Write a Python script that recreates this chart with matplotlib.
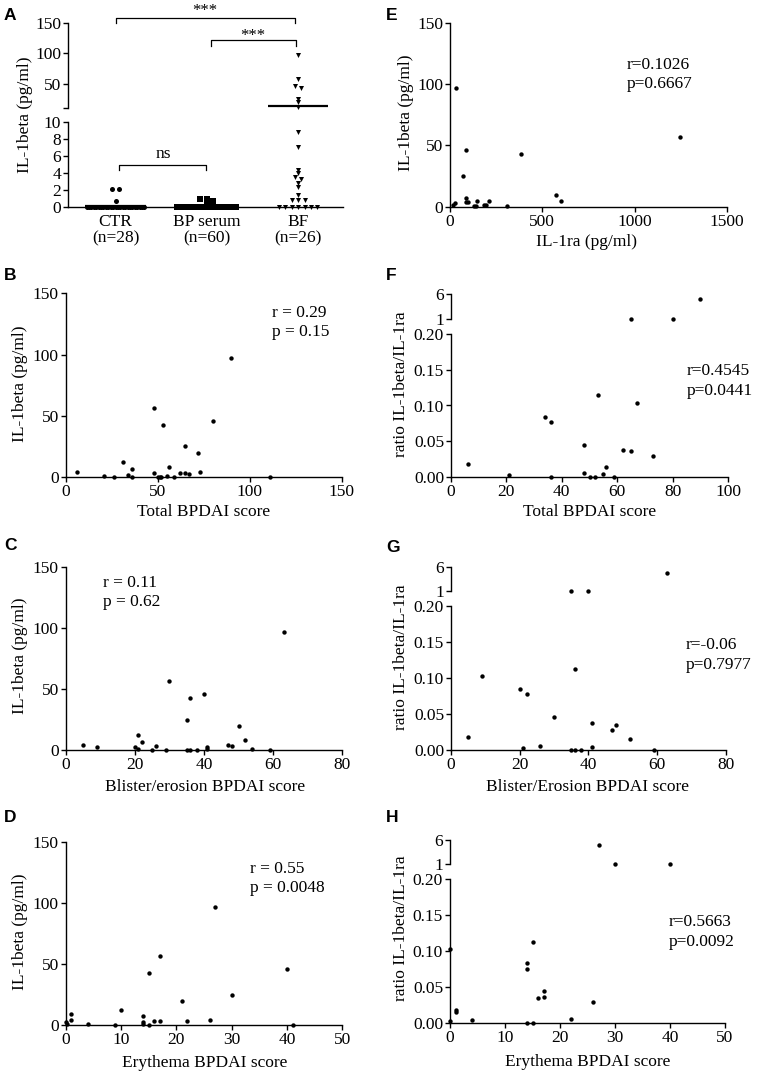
import numpy as np
import matplotlib.pyplot as plt

W, H = 759, 1076
plt.rcParams['font.family'] = 'Liberation Serif'
plt.rcParams['font.size'] = 12.5

# ---- panel A: IL-1beta per group ----
groups = ['CTR\n(n=28)', 'BP serum\n(n=60)', 'BF\n(n=26)']
ctr_vals = [2.1, 2.1, 0.7] + [0.0] * 25
bp_vals = [0.95, 0.9, 0.7, 0.3] + [0.0] * 56
bf_vals = [97, 57, 47, 43, 25, 20, 12, 8.8, 7.1, 4.4, 4.0, 3.5, 3.3, 2.8, 2.4,
           1.4, 0.8, 0.8, 0.8, 0, 0, 0, 0, 0, 0, 0]
a_markers = ['o', 's', 'v']

# ---- E: IL-1beta vs IL-1ra ----
e_ra = [17, 25, 70, 88, 85, 95, 148, 132, 140, 185, 195, 212, 310, 576, 603, 30, 86, 386, 1248]
e_il = [1.4, 2.8, 25, 7.4, 4.1, 4.1, 4.9, 0.5, 0.5, 1.4, 1.4, 4.7, 0.3, 9.4, 4.7, 97, 46, 43, 57]

# ---- B: IL-1beta vs total BPDAI ----
b_score = [6, 21, 26, 31, 34, 36, 36, 48, 48, 50, 51, 52, 53, 55, 56, 59, 62, 65, 65, 67,
           72, 73, 80, 90, 111]
b_il = [4.1, 0.8, 0, 12.5, 2.2, 7.1, 0, 56.5, 3.8, 0, 0, 0, 42.9, 0.8, 8.7, 0, 3.3, 25.3,
        3.8, 2.4, 19.8, 4.3, 45.9, 97, 0.5]

# ---- C: IL-1beta vs blister/erosion BPDAI ----
c_score = [5, 9, 20, 21, 21, 22, 25, 26, 29, 30, 35, 35, 36, 36, 38, 40, 41, 41, 47, 48,
           50, 52, 54, 59, 63]
c_il = [3.6, 1.9, 1.9, 11.7, 0.3, 6.6, 0, 3.3, 0, 56.3, 24.6, 0, 42.6, 0, 0, 45.9, 2.2,
        0.8, 4.1, 3.0, 19.4, 8.2, 0.3, 0, 96.7]

# ---- D: IL-1beta vs erythema BPDAI ----
d_score = [0, 0.2, 1, 1, 4, 9, 10, 14, 14, 14, 15, 15, 16, 17, 17, 21, 22, 26, 27, 30, 40, 41]
d_il = [2.2, 0.6, 8.7, 3.8, 0.8, 0.3, 12.3, 7.1, 2.4, 0.6, 0, 42.8, 3.6, 3.3, 56.5, 19.6,
        3.6, 4.4, 96.8, 24.8, 46.1, 0.3]

# ---- F/G/H: ratio IL-1beta/IL-1ra ----
f_score = [6, 21, 34, 36, 36, 48, 48, 50, 52, 53, 55, 56, 59, 62, 65, 67, 73, 65, 80, 90]
f_ratio = [0.0186, 0.0037, 0.084, 0.077, 0, 0.045, 0.0065, 0, 0, 0.114, 0.004, 0.015, 0,
           0.0376, 0.036, 0.104, 0.0297, 1.05, 1.1, 5.0]
g_score = [5, 9, 20, 21, 22, 26, 30, 35, 36, 38, 35, 36, 40, 41, 41, 47, 48, 52, 59, 63]
g_ratio = [0.0177, 0.103, 0.084, 0.003, 0.077, 0.0056, 0.045, 0, 0, 0, 1.05, 0.113, 1.05,
           0.0367, 0.0033, 0.028, 0.035, 0.0144, 0, 4.9]
h_score = [0, 0, 1, 1, 4, 14, 14, 14, 15, 15, 16, 17, 17, 22, 26, 27, 30, 40]
h_ratio = [0.003, 0.103, 0.0185, 0.0153, 0.0046, 0.084, 0.076, 0, 0.113, 0, 0.035, 0.045,
           0.037, 0.0065, 0.029, 4.9, 1.0, 1.05]

fig = plt.figure(figsize=(W / 100, H / 100), dpi=100)


def add_ax(x0, y0, x1, y1):
    return fig.add_axes([x0 / W, 1 - y1 / H, (x1 - x0) / W, (y1 - y0) / H])


def ftext(x, y, s, **kw):
    kw.setdefault('ha', 'center')
    kw.setdefault('va', 'center')
    fig.text(x / W, 1 - y / H, s, **kw)


def style(ax, bottom=True):
    ax.spines['top'].set_visible(False)
    ax.spines['right'].set_visible(False)
    ax.spines['bottom'].set_visible(bottom)
    for s in ['left', 'bottom']:
        ax.spines[s].set_linewidth(1.0)
    ax.tick_params(direction='out', length=3.5, width=1, labelsize=12.5, pad=1.5)
    ax.patch.set_alpha(0)


def letter(x, y, s):
    ftext(x, y, s, family='Liberation Sans', weight='bold', fontsize=12.5, ha='left')


def scatter_panel(box, x, y, xlim, xticks, yticks=(0, 50, 100, 150)):
    ax = add_ax(*box)
    style(ax)
    ax.scatter(x, y, s=10, c='black', linewidths=0, clip_on=False, zorder=3)
    ax.set_xlim(*xlim)
    ax.set_ylim(0, 150)
    ax.set_xticks(xticks)
    ax.set_yticks(yticks)
    return ax


def ratio_panel(up_box, low_box, x, y, xlim, xticks):
    x = np.asarray(x, float)
    y = np.asarray(y, float)
    hi = y >= 0.5
    low = add_ax(*low_box)
    style(low)
    low.scatter(x[~hi], y[~hi], s=10, c='black', linewidths=0, clip_on=False, zorder=3)
    low.set_xlim(*xlim)
    low.set_ylim(0, 0.20)
    low.set_xticks(xticks)
    low.set_yticks([0, 0.05, 0.10, 0.15, 0.20])
    low.set_yticklabels(['0.00', '0.05', '0.10', '0.15', '0.20'])
    up = add_ax(*up_box)
    style(up, bottom=False)
    up.scatter(x[hi], y[hi], s=10, c='black', linewidths=0, clip_on=False, zorder=3)
    up.set_xlim(*xlim)
    up.set_ylim(1, 6)
    up.set_xticks([])
    up.set_yticks([1, 6])
    return up, low


# ---------- panel A (broken y axis) ----------
a_up = add_ax(68, 23, 343, 108)
a_low = add_ax(68, 122, 343, 207)
style(a_up, bottom=False)
style(a_low)
for ax in (a_up, a_low):
    ax.set_xlim(-0.52, 2.49)
a_up.set_ylim(10, 150)
a_up.set_yticks([10, 50, 100, 150])
a_up.set_yticklabels(['', '50', '100', '150'])
a_up.set_xticks([])
a_low.set_ylim(0, 10)
a_low.set_yticks([0, 2, 4, 6, 8, 10])
a_low.set_xticks([0, 1, 2])
a_low.set_xticklabels(groups, linespacing=1.05)
a_low.tick_params(axis='x', length=0, pad=5)


def to_px(v):
    return 207 - v * 8.5 if v <= 10 else 108 - (v - 10) * 0.607


def swarm(vals):
    # spread near-equal values sideways, zeros get their own row
    vals = np.asarray(vals, float)
    offs = np.zeros(len(vals))
    rows = [list(np.where(vals == 0)[0])]
    nz = [i for i in np.argsort(vals) if vals[i] != 0]
    cur = []
    for i in nz:
        if cur and to_px(vals[cur[-1]]) - to_px(vals[i]) >= 3:
            rows.append(cur)
            cur = []
        cur.append(i)
    if cur:
        rows.append(cur)
    for r in rows:
        k = len(r)
        if k == 0:
            continue
        r = sorted(r, key=lambda i: -vals[i])
        s = min(0.07, 0.66 / k)
        for j, i in enumerate(r):
            offs[i] = (j - (k - 1) / 2) * s
    return offs


for c, (vals, mk) in enumerate(zip([ctr_vals, bp_vals, bf_vals], a_markers)):
    vals = np.asarray(vals, float)
    xs = c + swarm(vals)
    lo = vals <= 10
    a_low.scatter(xs[lo], vals[lo], s=13, marker=mk, c='black', linewidths=0,
                  clip_on=False, zorder=3)
    a_up.scatter(xs[~lo], vals[~lo], s=13, marker=mk, c='black', linewidths=0,
                 clip_on=False, zorder=3)
    m = vals.mean()
    tgt = a_up if m > 10 else a_low
    tgt.hlines(m, c - 0.33, c + 0.33, colors='black', lw=1.6, zorder=4)

a_up.plot([0, 0, 1.96, 1.96], [150, 158, 158, 150], color='black', lw=0.9, clip_on=False)
a_up.text(0.98, 170, '***', ha='center', va='center', fontsize=12)
a_up.plot([1.04, 1.04, 1.98, 1.98], [112, 122, 122, 112], color='black', lw=0.9, clip_on=False)
a_up.text(1.5, 129, '***', ha='center', va='center', fontsize=12)
a_low.plot([0.04, 0.04, 0.99, 0.99], [4.35, 4.9, 4.9, 4.35], color='black', lw=0.9)
a_low.text(0.52, 5.3, 'ns', ha='center', va='bottom', fontsize=12.5)
ftext(25, 115, 'IL-1beta (pg/ml)', rotation=90)
letter(4, 15, 'A')

# ---------- panel E ----------
scatter_panel((450, 23, 727, 206.7), e_ra, e_il, (0, 1500), [0, 500, 1000, 1500])
ftext(406, 113, 'IL-1beta (pg/ml)', rotation=90)
ftext(586, 242, 'IL-1ra (pg/ml)')
ftext(627, 65, 'r=0.1026', ha='left')
ftext(627, 84, 'p=0.6667', ha='left')
letter(386, 15, 'E')

# ---------- panel B ----------
scatter_panel((65.7, 293.3, 341.7, 477.3), b_score, b_il, (0, 150), [0, 50, 100, 150])
ftext(20, 384, 'IL-1beta (pg/ml)', rotation=90)
ftext(204, 512, 'Total BPDAI score')
ftext(272, 313, 'r = 0.29', ha='left')
ftext(272, 332, 'p = 0.15', ha='left')
letter(4, 275, 'B')

# ---------- panel F ----------
ratio_panel((451, 294.3, 728, 319), (451, 333.7, 728, 477.3),
            f_score, f_ratio, (0, 100), [0, 20, 40, 60, 80, 100])
ftext(400.7, 384, 'ratio IL-1beta/IL-1ra', rotation=90)
ftext(590, 512, 'Total BPDAI score')
ftext(687, 371, 'r=0.4545', ha='left')
ftext(687, 391, 'p=0.0441', ha='left')
letter(386, 276, 'F')

# ---------- panel C ----------
scatter_panel((65.7, 566.7, 342.3, 749.7), c_score, c_il, (0, 80), [0, 20, 40, 60, 80])
ftext(20, 656, 'IL-1beta (pg/ml)', rotation=90)
ftext(205, 787, 'Blister/erosion BPDAI score')
ftext(103, 583, 'r = 0.11', ha='left')
ftext(103, 602, 'p = 0.62', ha='left')
letter(4, 545, 'C')

# ---------- panel G ----------
ratio_panel((451, 567.3, 725.7, 591), (451, 606.3, 725.7, 749.7),
            g_score, g_ratio, (0, 80), [0, 20, 40, 60, 80])
ftext(400.7, 657, 'ratio IL-1beta/IL-1ra', rotation=90)
ftext(588, 787, 'Blister/Erosion BPDAI score')
ftext(686, 645, 'r=-0.06', ha='left')
ftext(686, 665, 'p=0.7977', ha='left')
letter(386, 547, 'G')

# ---------- panel D ----------
scatter_panel((65.7, 841.7, 342.3, 1025), d_score, d_il, (0, 50), [0, 10, 20, 30, 40, 50])
ftext(20, 932, 'IL-1beta (pg/ml)', rotation=90)
ftext(205, 1063, 'Erythema BPDAI score')
ftext(250, 869, 'r = 0.55', ha='left')
ftext(250, 888, 'p = 0.0048', ha='left')
letter(4, 817, 'D')

# ---------- panel H ----------
ratio_panel((450, 840, 725, 864), (450, 879.3, 725, 1023.3),
            h_score, h_ratio, (0, 50), [0, 10, 20, 30, 40, 50])
ftext(400.7, 928, 'ratio IL-1beta/IL-1ra', rotation=90)
ftext(588, 1062, 'Erythema BPDAI score')
ftext(669, 922, 'r=0.5663', ha='left')
ftext(669, 942, 'p=0.0092', ha='left')
letter(386, 817, 'H')

fig.savefig('out.png', dpi=100)
